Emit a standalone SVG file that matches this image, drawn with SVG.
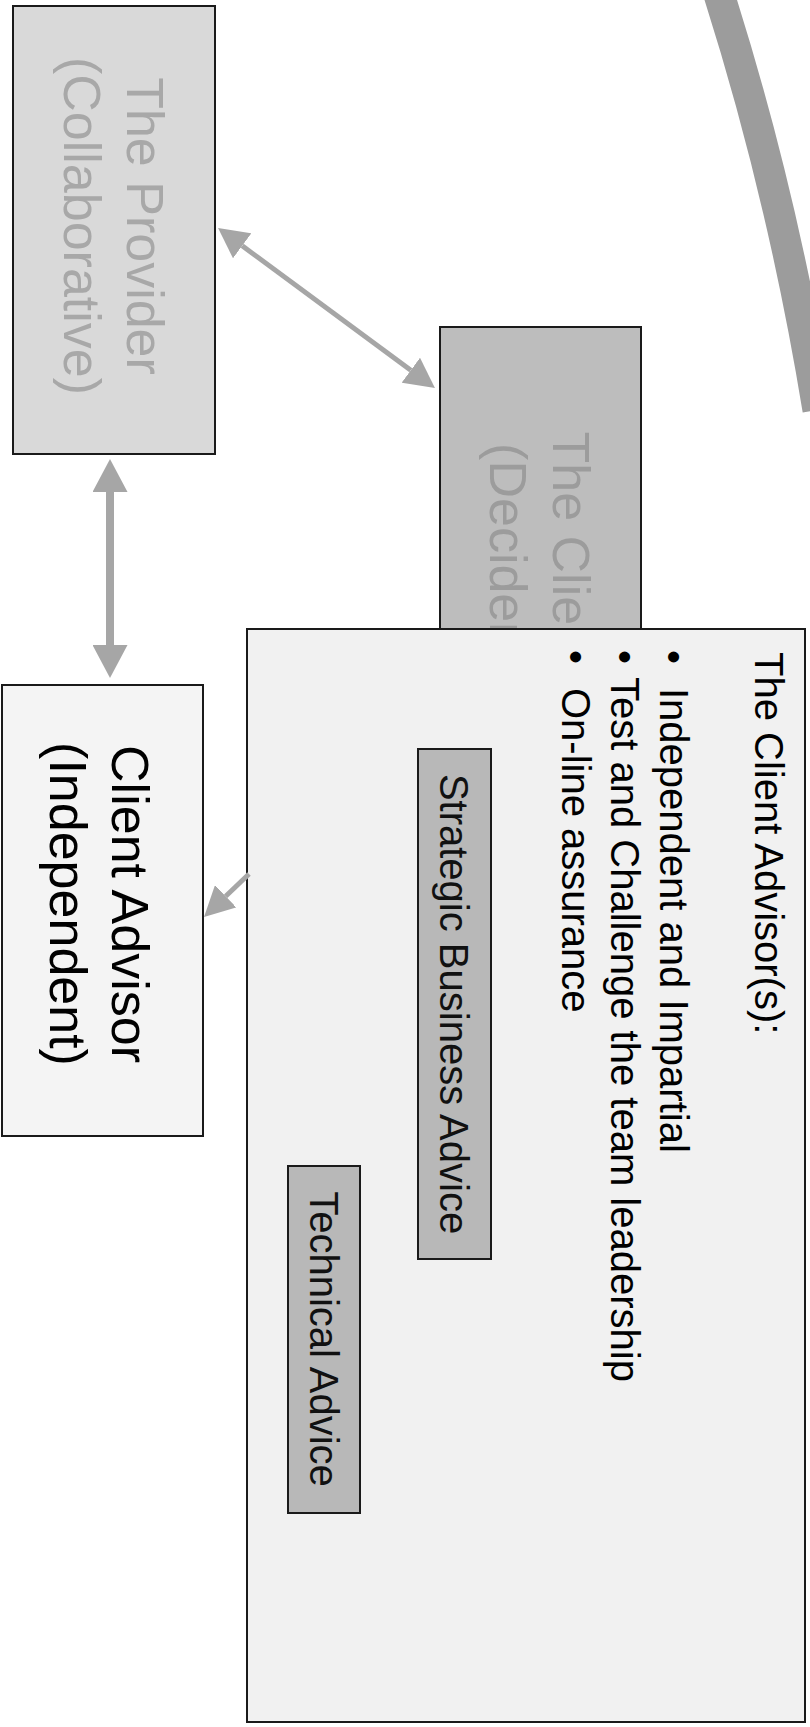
<svg xmlns="http://www.w3.org/2000/svg" width="810" height="1727" viewBox="0 0 810 1727">
  <style>
    .box { stroke: #1a1a1a; stroke-width: 2; }
    .t { font-family: "Liberation Sans", Arial, sans-serif; }
    .big { font-size: 52px; text-anchor: middle; }
    .mid { font-size: 40px; }
    .conn { stroke: #a6a6a6; fill: none; }
  </style>
  <defs>
    <marker id="ah" markerUnits="userSpaceOnUse" viewBox="0 0 30 31" markerWidth="30" markerHeight="31" refX="0" refY="15.5" orient="auto-start-reverse">
      <path d="M0,0 L30,15.5 L0,31 Z" fill="#a6a6a6"/>
    </marker>
    <marker id="ahL" markerUnits="userSpaceOnUse" viewBox="0 0 33 35" markerWidth="33" markerHeight="35" refX="0" refY="17.5" orient="auto-start-reverse">
      <path d="M0,0 L33,17.5 L0,35 Z" fill="#a6a6a6"/>
    </marker>
  </defs>
  <rect x="0" y="0" width="810" height="1727" fill="#ffffff"/>

  <g id="arc">
    <path d="M716,-15 Q782,190 818,410" fill="none" stroke="#9c9c9c" stroke-width="31"/>
  </g>

  <g id="provider">
    <rect class="box" x="13" y="6" width="202" height="448" fill="#d9d9d9"/>
    <text class="t big" fill="#a8a8a8" transform="translate(127,226) rotate(90)">The Provider</text>
    <text class="t big" fill="#a8a8a8" transform="translate(64,226) rotate(90)">(Collaborative)</text>
  </g>

  <g id="client">
    <rect class="box" x="440" y="327" width="201" height="450" fill="#bdbdbd"/>
    <text class="t big" fill="#9c9c9c" transform="translate(553,550) rotate(90)">The Client</text>
    <text class="t big" fill="#9c9c9c" transform="translate(490,550) rotate(90)">(Decider)</text>
  </g>

  <g id="client-advisor">
    <rect class="box" x="2" y="685" width="201" height="451" fill="#f4f4f4"/>
    <text class="t big" fill="#000000" transform="translate(112,904) rotate(90)">Client Advisor</text>
    <text class="t big" fill="#000000" transform="translate(50,904) rotate(90)">(Independent)</text>
  </g>

  <g id="advisor-roles">
    <rect class="box" x="247" y="629" width="558" height="1093" fill="#f1f1f1"/>
    <text class="t mid" fill="#000000" transform="translate(755,652) rotate(90)">The Client Advisor(s):</text>
    <text class="t mid" fill="#000000" transform="translate(660,650) rotate(90)">•</text>
    <text class="t mid" fill="#000000" transform="translate(660,688) rotate(90)">Independent and Impartial</text>
    <text class="t mid" fill="#000000" transform="translate(611,650) rotate(90)">•</text>
    <text class="t mid" fill="#000000" transform="translate(611,677) rotate(90)">Test and Challenge the team leadership</text>
    <text class="t mid" fill="#000000" transform="translate(562,650) rotate(90)">•</text>
    <text class="t mid" fill="#000000" transform="translate(562,688) rotate(90)">On-line assurance</text>
  </g>

  <g id="strategic">
    <rect class="box" x="418" y="749" width="73" height="510" fill="#b8b8b8"/>
    <text class="t mid" fill="#111111" text-anchor="middle" transform="translate(440,1004) rotate(90)">Strategic Business Advice</text>
  </g>

  <g id="technical">
    <rect class="box" x="288" y="1166" width="72" height="347" fill="#b8b8b8"/>
    <text class="t mid" fill="#111111" text-anchor="middle" transform="translate(310,1339) rotate(90)">Technical Advice</text>
  </g>

  <g id="connectors">
    <line class="conn" x1="242.2" y1="245.8" x2="410.8" y2="370.2" stroke-width="5" marker-start="url(#ah)" marker-end="url(#ah)"/>
    <line class="conn" x1="110" y1="492" x2="110" y2="645" stroke-width="8" marker-start="url(#ahL)" marker-end="url(#ahL)"/>
    <line class="conn" x1="249" y1="874" x2="225.7" y2="896.3" stroke-width="5" marker-end="url(#ah)"/>
  </g>
</svg>
